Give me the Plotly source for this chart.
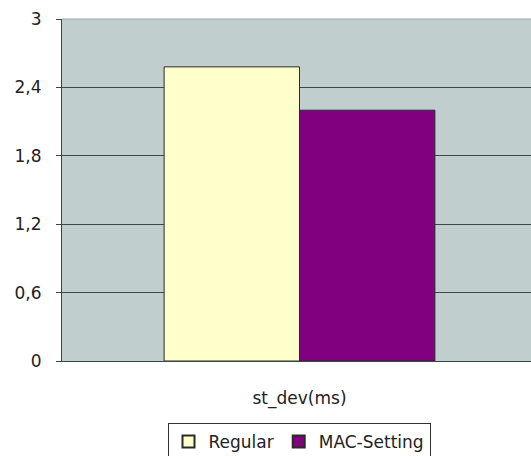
import plotly.graph_objects as go

# Data
categories = ["st_dev(ms)"]
series_names = ["Regular", "MAC-Setting"]
regular = [2.58]
mac_setting = [2.20]
y_ticks = [0, 0.6, 1.2, 1.8, 2.4, 3]
y_tick_labels = ["0", "0,6", "1,2", "1,8", "2,4", "3"]

fill_colors = ["#ffffcc", "#800080"]
font_family = "DejaVu Sans, Arial, sans-serif"
text_color = "#222222"
font_size = 17

fig = go.Figure()
for name, vals, col in zip(series_names, [regular, mac_setting], fill_colors):
    fig.add_trace(go.Bar(
        x=categories, y=vals, name=name,
        marker=dict(color=col, line=dict(color="#2a2a2a", width=1)),
    ))

W, H = 531, 456
left, top, bottom = 62, 19, 95
plot_w_full = 475  # full plot width; right side extends past the page edge
visible_w = W - left
x_right = -0.5 + visible_w / plot_w_full

fig.update_layout(
    width=W, height=H,
    margin=dict(l=left, r=0, t=top, b=bottom, pad=0),
    paper_bgcolor="white",
    plot_bgcolor="#c1cece",
    barmode="group",
    bargap=0.43,
    bargroupgap=0,
    font=dict(family=font_family, size=font_size, color=text_color),
    showlegend=True,
    legend=dict(
        orientation="h",
        xref="container", x=299 / W, xanchor="center",
        yref="container", y=1 - 423 / H, yanchor="top",
        bordercolor="#333333", borderwidth=1,
        bgcolor="white",
        font=dict(family=font_family, size=font_size, color=text_color),
        itemsizing="constant",
        traceorder="normal",
        itemwidth=30,
    ),
    xaxis=dict(
        type="category",
        range=[-0.5, x_right],
        showgrid=False,
        showline=True, linecolor="#3a4545", linewidth=1,
        ticks="", ticklabelstandoff=22,
        tickfont=dict(family=font_family, size=font_size, color=text_color),
        zeroline=False,
    ),
    yaxis=dict(
        range=[0, 3],
        tickvals=y_ticks, ticktext=y_tick_labels,
        showgrid=True, gridcolor="#3a4848", gridwidth=1,
        showline=True, linecolor="#3a4545", linewidth=1,
        ticks="outside", ticklen=5, tickcolor="#3a4545",
        ticklabelstandoff=11,
        tickfont=dict(family=font_family, size=font_size, color=text_color),
        zeroline=False,
    ),
)

# light border along the top of the plot area
fig.add_shape(type="line", xref="paper", yref="paper", x0=0, x1=1, y0=1, y1=1,
              line=dict(color="#9aa6a6", width=1), layer="above")

fig.write_html("out.html")
